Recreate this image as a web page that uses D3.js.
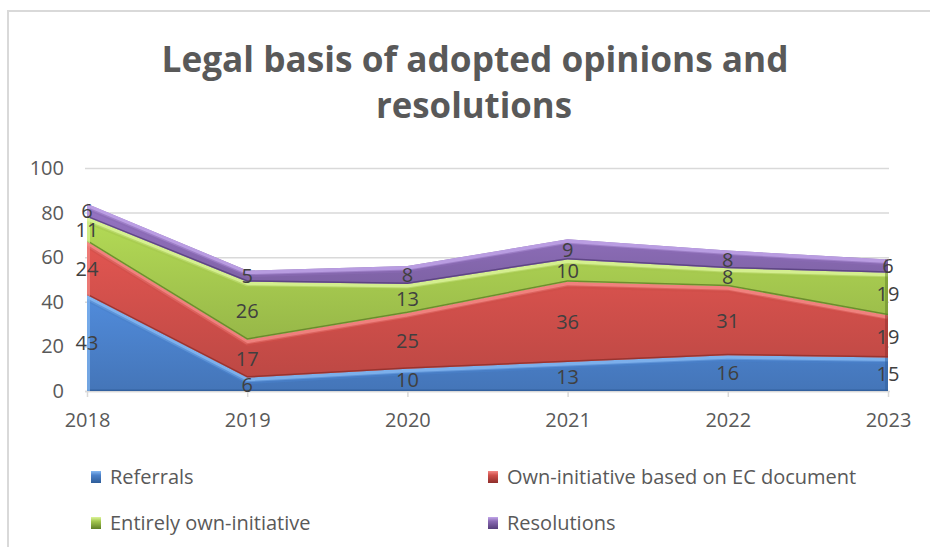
<!DOCTYPE html>
<html lang="en">
<head>
<meta charset="UTF-8">
<title>Legal basis of adopted opinions and resolutions</title>
<style>
  body { margin: 0; background: #fff; }
  svg { display: block; font-family: "Open Sans", "Liberation Sans", sans-serif; }
</style>
</head>
<body>
<svg id="chart" width="930" height="547"></svg>
<script src="https://cdnjs.cloudflare.com/ajax/libs/d3/7.8.5/d3.min.js"></script>
<script>
// values
const years = ['2018', '2019', '2020', '2021', '2022', '2023'];
const referrals = [43, 6, 10, 13, 16, 15];
const ownInitiativeEC = [24, 17, 25, 36, 31, 19];
const entirelyOwn = [11, 26, 13, 10, 8, 19];
const resolutions = [6, 5, 8, 9, 8, 6];
const seriesNames = ['Referrals', 'Own-initiative based on EC document', 'Entirely own-initiative', 'Resolutions'];
const yTicks = [0, 20, 40, 60, 80, 100];

// body / highlight / shadow per series
const colors = [
  { body: '#4a80c9', light: '#86b9f2', dark: '#2f5d99' },
  { body: '#cf4f4a', light: '#f48a86', dark: '#8e2e2b' },
  { body: '#a5c84f', light: '#dcf49a', dark: '#5f7f25' },
  { body: '#8a6bb4', light: '#c2a6ea', dark: '#553d7a' }
];

const rows = years.map((yr, i) => ({
  year: yr,
  s0: referrals[i],
  s1: ownInitiativeEC[i],
  s2: entirelyOwn[i],
  s3: resolutions[i]
}));
const keys = ['s0', 's1', 's2', 's3'];
const stacked = d3.stack().keys(keys)(rows);

const svg = d3.select('#chart');
const defs = svg.append('defs');

const x = d3.scalePoint().domain(years).range([87, 888]);
const y = d3.scaleLinear().domain([0, 100]).range([391, 168]);

// chart border (only top/left visible in the crop)
svg.append('path')
  .attr('d', 'M8,547 V11 H930')
  .attr('fill', 'none')
  .attr('stroke', '#d9d9d9')
  .attr('stroke-width', 2);

// title
const title = svg.append('text')
  .attr('text-anchor', 'middle')
  .attr('fill', '#595959')
  .style('font-size', '36px')
  .style('font-weight', 'bold');
title.append('tspan').attr('x', 475).attr('y', 72)
  .attr('textLength', 627).attr('lengthAdjust', 'spacingAndGlyphs')
  .text('Legal basis of adopted opinions and');
title.append('tspan').attr('x', 474).attr('y', 118)
  .attr('textLength', 196).attr('lengthAdjust', 'spacingAndGlyphs')
  .text('resolutions');

// gridlines
const grid = svg.append('g')
  .attr('transform', 'translate(85,0)')
  .call(d3.axisRight(y).tickValues(yTicks).tickSize(804).tickFormat(''));
grid.select('.domain').remove();
grid.selectAll('line').attr('stroke', '#d9d9d9').attr('stroke-width', 1.5);

// y labels
const yAxis = svg.append('g')
  .attr('transform', 'translate(64,0)')
  .call(d3.axisLeft(y).tickValues(yTicks).tickSize(0).tickPadding(0));
yAxis.select('.domain').remove();
yAxis.selectAll('text')
  .attr('fill', '#595959')
  .style('font-size', '20px')
  .style('font-family', '"Open Sans", sans-serif');

// x axis
const xAxis = svg.append('g')
  .attr('transform', 'translate(0,391)')
  .call(d3.axisBottom(x).tickSize(6).tickPadding(16).tickSizeOuter(0));
xAxis.select('.domain').attr('stroke', '#d9d9d9').attr('stroke-width', 1.5)
  .attr('d', 'M85,0.5H890');
xAxis.selectAll('line').attr('stroke', '#d9d9d9').attr('stroke-width', 1.5);
xAxis.selectAll('text')
  .attr('fill', '#595959')
  .style('font-size', '20px')
  .style('font-family', '"Open Sans", sans-serif');

// areas with a bevel look
const area = d3.area()
  .x(d => x(d.data.year))
  .y0(d => y(d[0]))
  .y1(d => y(d[1]));
const topLine = d3.line().x(d => x(d.data.year)).y(d => y(d[1]));
const bottomLine = d3.line().x(d => x(d.data.year)).y(d => y(d[0]));

stacked.forEach((s, i) => {
  const c = colors[i];
  const gid = 'grad' + i;
  const g = defs.append('linearGradient').attr('id', gid)
    .attr('x1', 0).attr('y1', 0).attr('x2', 0).attr('y2', 1);
  g.append('stop').attr('offset', '0%').attr('stop-color', d3.color(c.body).brighter(0.25));
  g.append('stop').attr('offset', '100%').attr('stop-color', d3.color(c.body).darker(0.25));

  defs.append('clipPath').attr('id', 'clip' + i)
    .append('path').attr('d', area(s));

  const layer = svg.append('g').attr('class', 'series');
  layer.append('path')
    .attr('d', area(s))
    .attr('fill', `url(#${gid})`);

  const inner = layer.append('g').attr('clip-path', `url(#clip${i})`);
  // highlight along the top edge
  inner.append('path')
    .attr('d', topLine(s))
    .attr('fill', 'none')
    .attr('stroke', c.light)
    .attr('stroke-width', 9)
    .attr('stroke-opacity', 0.85);
  inner.append('path')
    .attr('d', topLine(s))
    .attr('fill', 'none')
    .attr('stroke', c.body)
    .attr('stroke-width', 3)
    .attr('stroke-opacity', 0.6)
    .attr('transform', 'translate(0,5)');
  // shadow along the bottom edge
  inner.append('path')
    .attr('d', bottomLine(s))
    .attr('fill', 'none')
    .attr('stroke', c.dark)
    .attr('stroke-width', 3)
    .attr('stroke-opacity', 0.8);
  // bevel on left and right ends
  inner.append('rect')
    .attr('x', x(years[0])).attr('y', 0).attr('width', 3).attr('height', 547)
    .attr('fill', c.light).attr('opacity', 0.7);
  inner.append('rect')
    .attr('x', x(years[years.length - 1]) - 3).attr('y', 0).attr('width', 3).attr('height', 547)
    .attr('fill', c.dark).attr('opacity', 0.5);
});

// data labels in the middle of each band
stacked.forEach(s => {
  svg.append('g').selectAll('text')
    .data(s)
    .join('text')
    .attr('x', d => x(d.data.year))
    .attr('y', d => y((d[0] + d[1]) / 2))
    .attr('dy', '0.36em')
    .attr('text-anchor', 'middle')
    .attr('fill', '#404040')
    .style('font-size', '20px')
    .text(d => d[1] - d[0]);
});

// legend
const legendPos = [[91, 477], [488, 477], [91, 523], [488, 523]];
const legend = svg.append('g');
seriesNames.forEach((name, i) => {
  const c = colors[i];
  const lg = defs.append('linearGradient').attr('id', 'lg' + i)
    .attr('x1', 0).attr('y1', 0).attr('x2', 0).attr('y2', 1);
  lg.append('stop').attr('offset', '0%').attr('stop-color', c.light);
  lg.append('stop').attr('offset', '35%').attr('stop-color', c.body);
  lg.append('stop').attr('offset', '100%').attr('stop-color', c.dark);
  const [lx, ly] = legendPos[i];
  legend.append('rect')
    .attr('x', lx).attr('y', ly - 6).attr('width', 10).attr('height', 12)
    .attr('fill', `url(#lg${i})`);
  legend.append('text')
    .attr('x', lx + 19).attr('y', ly)
    .attr('dy', '0.35em')
    .attr('fill', '#595959')
    .style('font-size', '20px')
    .text(name);
});
</script>
</body>
</html>
